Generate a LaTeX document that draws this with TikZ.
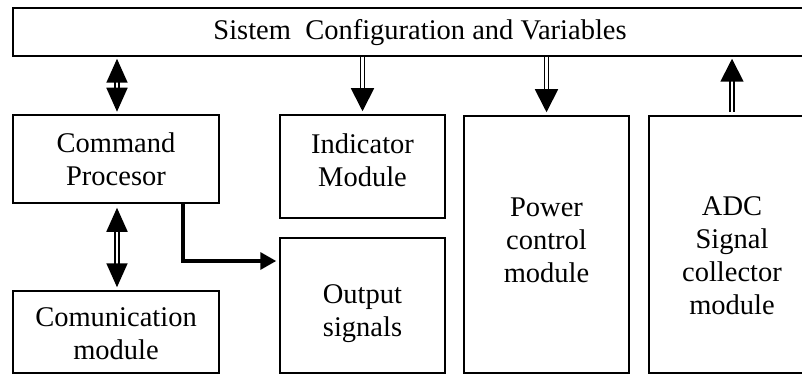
\documentclass[tikz,border=0pt]{standalone}
\usepackage{fontspec}
\setmainfont{Liberation Serif}
\usetikzlibrary{arrows.meta}
\tikzset{
  box/.style={draw, line width=1.5pt, inner sep=0pt, rectangle},
  lbl/.style={align=center, inner sep=0pt, font=\fontsize{28.5}{33}\selectfont},
  dblarrow/.style={draw, line width=1.8pt, double, double distance=2.2pt,
    -{Triangle[length=23pt,width=23pt]}},
  bidarrow/.style={draw, line width=1.8pt, double, double distance=2.2pt,
    {Triangle[length=24pt,width=21pt]}-{Triangle[length=24pt,width=21pt]}},
  thickarrow/.style={draw, line width=3.4pt, -{Triangle[length=16pt,width=17pt]}}
}
\begin{document}
\begin{tikzpicture}[x=1pt,y=-1pt]
\useasboundingbox (0,0) rectangle (802,374);
% boxes
\node[box, minimum width=817pt, minimum height=48pt] (top) at (421.5,32) {};
\node[box, minimum width=206pt, minimum height=88pt] (cmd) at (116,159) {};
\node[box, minimum width=206pt, minimum height=82pt] (comm) at (116,332) {};
\node[box, minimum width=165pt, minimum height=103pt] (ind) at (362.5,166.5) {};
\node[box, minimum width=165pt, minimum height=135pt] (out) at (362.5,305.5) {};
\node[box, minimum width=165pt, minimum height=257pt] (pow) at (546.5,244.5) {};
\node[box, minimum width=166pt, minimum height=257pt] (adc) at (732,244.5) {};
% labels
\node[lbl] (toplbl) at (420,33) {Sistem\ \ Configuration and Variables};
\node[lbl] (cmdlbl) at (116,159) {Command\\Procesor};
\node[lbl] (commlbl) at (116,334) {Comunication\\module};
\node[lbl] (indlbl) at (362.5,160) {Indicator\\Module};
\node[lbl] (outlbl) at (362.5,314) {Output\\signals};
\node[lbl] (powlbl) at (546.5,240) {Power\\control\\module};
\node[lbl] (adclbl) at (732,256) {ADC\\Signal\\collector\\module};
% connectors
\coordinate (cmdx) at (117,0);
\draw[bidarrow, shorten <=2pt, shorten >=2.5pt] (top.south -| cmdx) -- (cmd.north -| cmdx);
\draw[bidarrow, shorten <=4pt, shorten >=3pt] (cmd.south -| cmdx) -- (comm.north -| cmdx);
\draw[dblarrow, shorten >=3pt] (top.south -| ind.north) -- (ind.north);
\draw[dblarrow, shorten >=3pt] (top.south -| pow.north) -- (pow.north);
\draw[dblarrow, shorten <=3pt, shorten >=2pt] (adc.north) -- (top.south -| adc.north);
\coordinate (bend) at (183,261);
\draw[thickarrow, shorten >=3pt] (cmd.south -| bend) -- (bend) -- (out.west |- bend);
\end{tikzpicture}
\end{document}
